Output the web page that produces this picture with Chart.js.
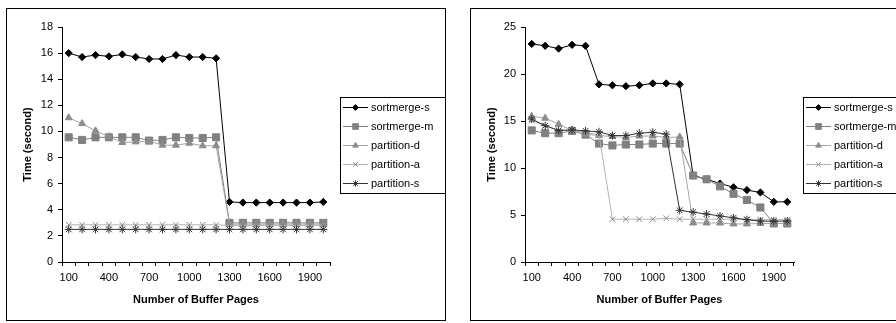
<!DOCTYPE html>
<html>
<head>
<meta charset="utf-8">
<script src="https://cdn.jsdelivr.net/npm/chart.js@4/dist/chart.umd.min.js"></script>
<style>
    html, body { margin: 0; padding: 0; background: #fff; overflow: hidden; width: 896px; height: 323px; }
    .box { position: absolute; border: 1px solid #000; background: #fff; }
    #boxLeft { left: 6px; top: 8px; width: 438px; height: 311px; }
    #boxRight { left: 470px; top: 8px; width: 440px; height: 311px; }
    canvas { display: block; }
</style>
</head>
<body>
<div class="box" id="boxLeft"><canvas id="chartLeft" width="438" height="311"></canvas></div>
<div class="box" id="boxRight"><canvas id="chartRight" width="440" height="311"></canvas></div>
<script>
    // buffer pages on the category axis
    let pages = [100, 200, 300, 400, 500, 600, 700, 800, 900, 1000,
        1100, 1200, 1300, 1400, 1500, 1600, 1700, 1800, 1900, 2000];
    let seriesNames = ['sortmerge-s', 'sortmerge-m', 'partition-d', 'partition-a', 'partition-s'];

    // left chart
    let leftSortmergeS = [16.0, 15.7, 15.85, 15.75, 15.9, 15.7, 15.55, 15.55, 15.85, 15.7, 15.7, 15.6, 4.6, 4.55, 4.55, 4.55, 4.55, 4.55, 4.55, 4.6];
    let leftSortmergeM = [9.55, 9.35, 9.55, 9.55, 9.55, 9.55, 9.3, 9.35, 9.55, 9.5, 9.5, 9.55, 3.0, 3.0, 3.0, 3.0, 3.0, 3.0, 3.0, 3.0];
    let leftPartitionD = [11.05, 10.6, 10.05, 9.6, 9.15, 9.2, 9.25, 8.95, 8.95, 9.1, 8.9, 8.9, 2.9, 2.9, 2.9, 2.9, 2.9, 2.9, 2.9, 2.9];
    let leftPartitionA = [2.85, 2.85, 2.85, 2.85, 2.85, 2.85, 2.85, 2.85, 2.85, 2.85, 2.85, 2.85, 2.8, 2.8, 2.8, 2.8, 2.8, 2.8, 2.8, 2.8];
    let leftPartitionS = [2.5, 2.5, 2.5, 2.5, 2.5, 2.5, 2.5, 2.5, 2.5, 2.5, 2.5, 2.5, 2.5, 2.5, 2.5, 2.5, 2.5, 2.5, 2.5, 2.5];

    // right chart
    let rightSortmergeS = [23.2, 23.0, 22.7, 23.1, 23.0, 18.9, 18.8, 18.7, 18.8, 19.0, 19.0, 18.9, 9.2, 8.8, 8.35, 7.95, 7.65, 7.4, 6.4, 6.4];
    let rightSortmergeM = [14.0, 13.7, 13.7, 13.95, 13.55, 12.6, 12.4, 12.5, 12.5, 12.6, 12.6, 12.6, 9.2, 8.8, 8.05, 7.25, 6.6, 5.8, 4.1, 4.1];
    let rightPartitionD = [15.5, 15.3, 14.65, 14.0, 13.6, 13.45, 13.35, 13.25, 13.4, 13.4, 13.25, 13.3, 4.15, 4.15, 4.15, 4.05, 4.05, 4.1, 4.1, 4.1];
    let rightPartitionA = [15.05, 14.5, 14.0, 14.0, 13.75, 13.55, 4.55, 4.55, 4.55, 4.55, 4.65, 4.55, 4.55, 4.55, 4.55, 4.55, 4.55, 4.5, 4.5, 4.5];
    let rightPartitionS = [15.2, 14.5, 14.0, 14.05, 13.95, 13.85, 13.45, 13.45, 13.7, 13.8, 13.6, 5.5, 5.3, 5.1, 4.9, 4.7, 4.5, 4.35, 4.35, 4.35];

    const FONT = 'Liberation Sans, Arial, sans-serif';

    let styles = [
        {line: '#000000', fill: '#000000', pointStyle: 'rectRot', radius: 3.6},
        {line: '#808080', fill: '#808080', pointStyle: 'rect', radius: 5},
        {line: '#a6a6a6', fill: '#8c8c8c', pointStyle: 'triangle', radius: 4},
        {line: '#b3b3b3', fill: '#8c8c8c', pointStyle: 'crossRot', radius: 4},
        {line: '#333333', fill: '#333333', pointStyle: 'star', radius: 4}
    ];

    function makeDatasets(values) {
        return values.map(function (v, i) {
            let s = styles[i];
            return {
                label: seriesNames[i],
                data: v,
                borderColor: s.line,
                borderWidth: 1,
                backgroundColor: s.fill,
                pointStyle: s.pointStyle,
                pointRadius: s.radius,
                pointBorderColor: s.fill,
                pointBackgroundColor: s.fill,
                pointBorderWidth: 1,
                tension: 0
            };
        }).reverse();
    }

    // Excel-like legend: framed box, line sample with marker
    const boxLegend = {
        id: 'boxLegend',
        afterDraw: function (chart, args, opts) {
            let ctx = chart.ctx;
            ctx.save();
            ctx.strokeStyle = '#000';
            ctx.lineWidth = 1;
            ctx.strokeRect(opts.x + 0.5, opts.y + 0.5, opts.w, opts.h);
            ctx.font = '11px ' + FONT;
            ctx.textBaseline = 'middle';
            seriesNames.forEach(function (name, i) {
                let s = styles[i];
                let y = Math.round(opts.y + 10 + i * 19) + 0.5;
                ctx.strokeStyle = s.line;
                ctx.beginPath();
                ctx.moveTo(opts.x + 3, y);
                ctx.lineTo(opts.x + 28, y);
                ctx.stroke();
                ctx.fillStyle = s.fill;
                ctx.strokeStyle = s.fill;
                Chart.helpers.drawPoint(ctx, {pointStyle: s.pointStyle, radius: s.radius * 0.8, borderWidth: 1, rotation: 0}, opts.x + 15.5, y);
                ctx.fillStyle = '#000';
                ctx.fillText(name, opts.x + 31, y);
            });
            ctx.restore();
        }
    };

    function buildChart(id, values, yMax, yStep, yWidth, legendX) {
        let ctx = document.getElementById(id);
        return new Chart(ctx, {
            type: 'line',
            data: {labels: pages, datasets: makeDatasets(values)},
            options: {
                responsive: false,
                animation: false,
                layout: {padding: {left: 0, top: 18, right: ctx.width - 323, bottom: 0}},
                plugins: {
                    legend: {display: false},
                    tooltip: {enabled: false},
                    boxLegend: {x: legendX, y: 88, w: 120, h: 96}
                },
                scales: {
                    x: {
                        type: 'category',
                        offset: true,
                        afterFit: function (scale) { scale.height = 58; },
                        grid: {drawOnChartArea: false, offset: true, tickLength: 4, color: '#000'},
                        border: {color: '#000'},
                        ticks: {
                            autoSkip: false,
                            maxRotation: 0,
                            padding: 5,
                            color: '#000',
                            font: {family: FONT, size: 11},
                            callback: function (val, idx) { return idx % 3 === 0 ? this.getLabelForValue(val) : ''; }
                        },
                        title: {
                            display: true,
                            text: 'Number of Buffer Pages',
                            color: '#000',
                            font: {family: FONT, size: 11, weight: 'bold'},
                            padding: {top: 0, bottom: 13}
                        }
                    },
                    y: {
                        min: 0,
                        max: yMax,
                        afterFit: function (scale) { scale.width = yWidth; },
                        grid: {drawOnChartArea: false, tickLength: 4, color: '#000'},
                        border: {color: '#000'},
                        ticks: {
                            stepSize: yStep,
                            padding: 5,
                            color: '#000',
                            font: {family: FONT, size: 11}
                        },
                        title: {
                            display: true,
                            text: 'Time (second)',
                            color: '#000',
                            font: {family: FONT, size: 11, weight: 'bold'},
                            padding: {top: 14, bottom: 0}
                        }
                    }
                }
            },
            plugins: [boxLegend]
        });
    }

    buildChart('chartLeft',
        [leftSortmergeS, leftSortmergeM, leftPartitionD, leftPartitionA, leftPartitionS],
        18, 2, 55, 333);
    buildChart('chartRight',
        [rightSortmergeS, rightSortmergeM, rightPartitionD, rightPartitionA, rightPartitionS],
        25, 5, 54, 332);
</script>
</body>
</html>
